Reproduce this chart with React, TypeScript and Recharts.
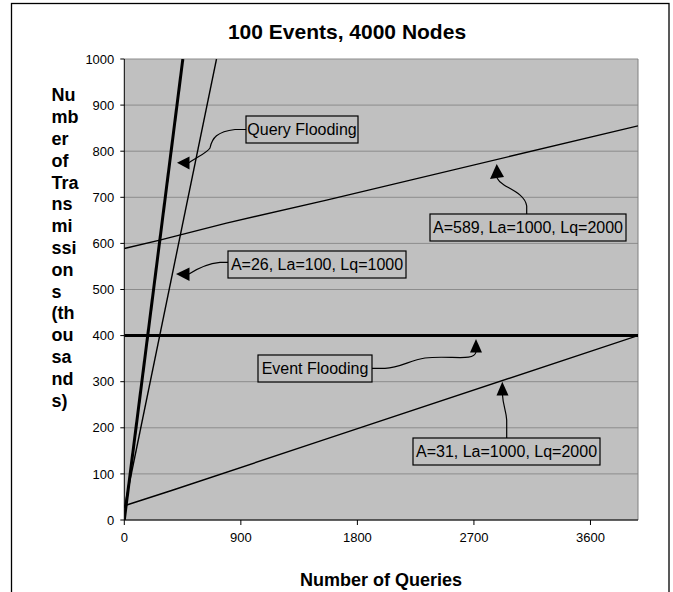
import { LineChart, Line, XAxis, YAxis, CartesianGrid, ReferenceLine } from "recharts";

type Pt = { x: number; y: number };

// valores (consultas, miles de transmisiones)
const X_MAX = 3967;
const xTicks = [0, 900, 1800, 2700, 3600];
const yTicks = [0, 100, 200, 300, 400, 500, 600, 700, 800, 900, 1000];

const queryFlooding: Pt[] = [
  { x: 0, y: 0 },
  { x: 452, y: 1000 },
];
const a26: Pt[] = [
  { x: 0, y: 26 },
  { x: 712, y: 1000 },
];
const a589: Pt[] = [
  { x: 0, y: 589 },
  { x: 274, y: 607 },
  { x: 789, y: 644 },
  { x: 1562, y: 694 },
  { x: 3967, y: 855 },
];
const eventFlooding: Pt[] = [
  { x: 0, y: 400 },
  { x: 3967, y: 400 },
];
const a31: Pt[] = [
  { x: 0, y: 31 },
  { x: 365, y: 64 },
  { x: 1510, y: 171 },
  { x: 3967, y: 400 },
];

const yLabelLines = ["Nu", "mb", "er", "of", "Tra", "ns", "mi", "ssi", "on", "s", "(th", "ou", "sa", "nd", "s)"];

const FONT = '"Liberation Sans", Arial, sans-serif';

// cuadros de texto con flecha (posiciones en píxeles)
const callouts = [
  {
    text: "Query Flooding",
    box: [246, 116, 112, 27],
    path: "M246,129.5 L235,129.5 C217,131.5 212,138 210,148 C207,153 197,157 189,162.7",
    head: "177,162.7 189.5,156.5 189.5,169.5",
  },
  {
    text: "A=26, La=100, Lq=1000",
    box: [228, 251, 178, 27],
    path: "M228,262.3 L220,262.3 C210,263.3 200,266.7 189,274",
    head: "176,274 189.5,267.5 189.5,281",
  },
  {
    text: "Event Flooding",
    box: [258, 355, 114, 27],
    path: "M372,368.3 L385,368.3 C400,368 410,360 425,358 C450,355 474,362 476,352",
    head: "476,339 470,352.5 482,352.5",
  },
  {
    text: "A=589, La=1000, Lq=2000",
    box: [430, 214, 196, 27],
    path: "M526.7,214 L526.7,206 C525,195 512,190 504,185 C499,182 498,180 497,178",
    head: "496.7,164 490,179 504,177",
  },
  {
    text: "A=31, La=1000, Lq=2000",
    box: [413, 438, 187, 27],
    path: "M506.7,438 L506.7,420 C506,410 503,405 502.5,395",
    head: "502.3,381.7 496.5,395.5 508.5,395.5",
  },
];

const App = () => {
  return (
    <div style={{ position: "absolute", left: 0, top: 0, width: 673, height: 592, background: "#fff", fontFamily: FONT }}>
      <LineChart
        width={673}
        height={592}
        margin={{ top: 59, right: 35, bottom: 42, left: 84.3 }}
      >
        <CartesianGrid vertical={false} stroke="#8c8c8c" fill="#c0c0c0" />
        <XAxis
          type="number"
          dataKey="x"
          domain={[0, X_MAX]}
          ticks={xTicks}
          allowDataOverflow
          height={30}
          axisLine={{ stroke: "#000" }}
          tickLine={{ stroke: "#000" }}
          tickSize={5}
          tickMargin={8}
          tick={{ fontSize: 13, fill: "#000", fontFamily: FONT }}
        />
        <YAxis
          type="number"
          dataKey="y"
          domain={[0, 1000]}
          ticks={yTicks}
          allowDataOverflow
          width={40}
          axisLine={{ stroke: "#000" }}
          tickLine={{ stroke: "#000" }}
          tickSize={4}
          tickMargin={6}
          tick={{ fontSize: 13, fill: "#000", fontFamily: FONT }}
        />
        <ReferenceLine x={X_MAX} stroke="#808080" />
        <Line data={a589} dataKey="y" stroke="#000" strokeWidth={1.4} dot={false} isAnimationActive={false} />
        <Line data={a31} dataKey="y" stroke="#000" strokeWidth={1.4} dot={false} isAnimationActive={false} />
        <Line data={a26} dataKey="y" stroke="#000" strokeWidth={1.4} dot={false} isAnimationActive={false} />
        <Line data={eventFlooding} dataKey="y" stroke="#000" strokeWidth={3} dot={false} isAnimationActive={false} />
        <Line data={queryFlooding} dataKey="y" stroke="#000" strokeWidth={3} dot={false} isAnimationActive={false} />
      </LineChart>

      <svg width={673} height={592} style={{ position: "absolute", left: 0, top: 0, pointerEvents: "none" }}>
        <rect x={11.5} y={3.5} width={657.5} height={600} fill="none" stroke="#000" strokeWidth={1.3} />
        <text x={347} y={38.5} textAnchor="middle" fontSize={21} fontWeight="bold" fontFamily={FONT}>
          100 Events, 4000 Nodes
        </text>
        <text x={381} y={586} textAnchor="middle" fontSize={18} fontWeight="bold" fontFamily={FONT}>
          Number of Queries
        </text>
        <text fontSize={18} fontWeight="bold" fontFamily={FONT}>
          {yLabelLines.map((s, i) => (
            <tspan key={i} x={51.5} y={101.4 + i * 21.8}>
              {s}
            </tspan>
          ))}
        </text>
        {callouts.map((c) => (
          <g key={c.text}>
            <path d={c.path} fill="none" stroke="#000" strokeWidth={1.2} />
            <polygon points={c.head} fill="#000" />
            <rect x={c.box[0]} y={c.box[1]} width={c.box[2]} height={c.box[3]} fill="#c0c0c0" stroke="#000" strokeWidth={1.2} />
            <text
              x={c.box[0] + c.box[2] / 2}
              y={c.box[1] + c.box[3] / 2 + 5.6}
              textAnchor="middle"
              fontSize={16}
              fontFamily={FONT}
            >
              {c.text}
            </text>
          </g>
        ))}
      </svg>
    </div>
  );
};

export default App;
